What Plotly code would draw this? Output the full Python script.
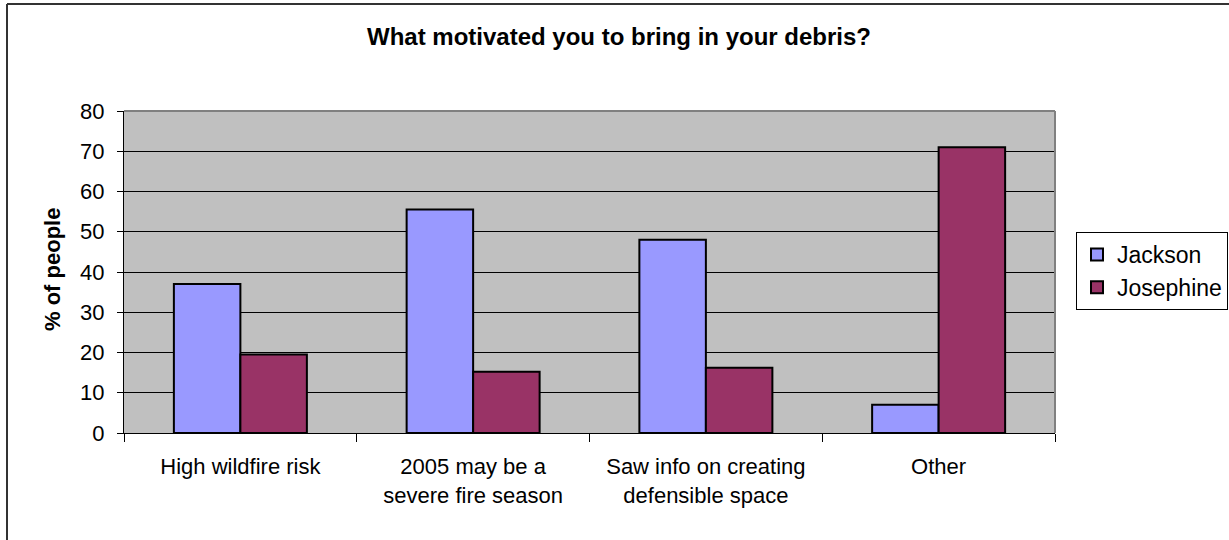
import plotly.graph_objects as go

# Survey responses (% of people)
categories = [
    "High wildfire risk",
    "2005 may be a<br>severe fire season",
    "Saw info on creating<br>defensible space",
    "Other",
]
jackson = [37, 55.5, 48, 7]
josephine = [19.5, 15.2, 16.2, 71]
y_ticks = [0, 10, 20, 30, 40, 50, 60, 70, 80]

W, H = 1229, 540
L, R, T, B = 124, 1055, 111, 433  # plot area in pixels


def px(x):
    return (x - L) / (R - L)


def py(y):
    return (B - y) / (B - T)


FONT = "Liberation Sans, Arial, sans-serif"

fig = go.Figure()
fig.add_trace(go.Bar(
    name="Jackson", x=categories, y=jackson,
    marker=dict(color="#9999FF", line=dict(color="black", width=2)),
))
fig.add_trace(go.Bar(
    name="Josephine", x=categories, y=josephine,
    marker=dict(color="#993366", line=dict(color="black", width=2)),
))

fig.update_layout(
    width=W, height=H,
    margin=dict(l=L, r=W - R, t=T, b=H - B, pad=0, autoexpand=False),
    paper_bgcolor="white",
    plot_bgcolor="#C0C0C0",
    font=dict(family=FONT, color="black"),
    barmode="group",
    bargap=1.5 / 3.5,
    bargroupgap=0,
    showlegend=True,
    legend=dict(
        x=px(1076), y=py(232), xanchor="left", yanchor="top",
        bordercolor="black", borderwidth=1, bgcolor="white",
        font=dict(size=23, family=FONT),
        tracegroupgap=0,
        itemsizing="constant",
    ),
    annotations=[
        dict(
            text="<b>What motivated you to bring in your debris?</b>",
            x=px(619), y=py(37), xref="paper", yref="paper",
            showarrow=False, font=dict(size=24, family=FONT),
            xanchor="center", yanchor="middle",
        ),
        dict(
            text="<b>% of people</b>",
            x=px(52), y=py(270), xref="paper", yref="paper",
            showarrow=False, textangle=-90, font=dict(size=22, family=FONT),
            xanchor="center", yanchor="middle",
        ),
    ],
    shapes=[
        # chart frame (top and left edges)
        dict(type="line", xref="paper", yref="paper",
             x0=px(7), x1=px(W + 5), y0=py(4), y1=py(4),
             line=dict(color="#333333", width=2)),
        dict(type="line", xref="paper", yref="paper",
             x0=px(7), x1=px(7), y0=py(4), y1=py(H + 5),
             line=dict(color="#333333", width=2)),
        # plot area border (top and right)
        dict(type="line", xref="paper", yref="paper",
             x0=0, x1=1, y0=1, y1=1, line=dict(color="#808080", width=2)),
        dict(type="line", xref="paper", yref="paper",
             x0=1, x1=1, y0=0, y1=1, line=dict(color="#808080", width=2)),
    ],
)

fig.update_xaxes(
    showline=True, linecolor="black", linewidth=1,
    ticks="outside", tickson="boundaries", ticklen=8, tickcolor="black",
    tickfont=dict(size=22, family=FONT),
    ticklabelstandoff=14,
    showgrid=False, zeroline=False,
)
fig.update_yaxes(
    range=[0, 80], tickvals=y_ticks, ticktext=[str(v) for v in y_ticks],
    showline=True, linecolor="black", linewidth=1,
    ticks="outside", ticklen=6, tickcolor="black",
    tickfont=dict(size=22, family=FONT),
    ticklabelstandoff=8,
    showgrid=True, gridcolor="black", gridwidth=1,
    zeroline=False,
)

fig.write_html("out.html")
